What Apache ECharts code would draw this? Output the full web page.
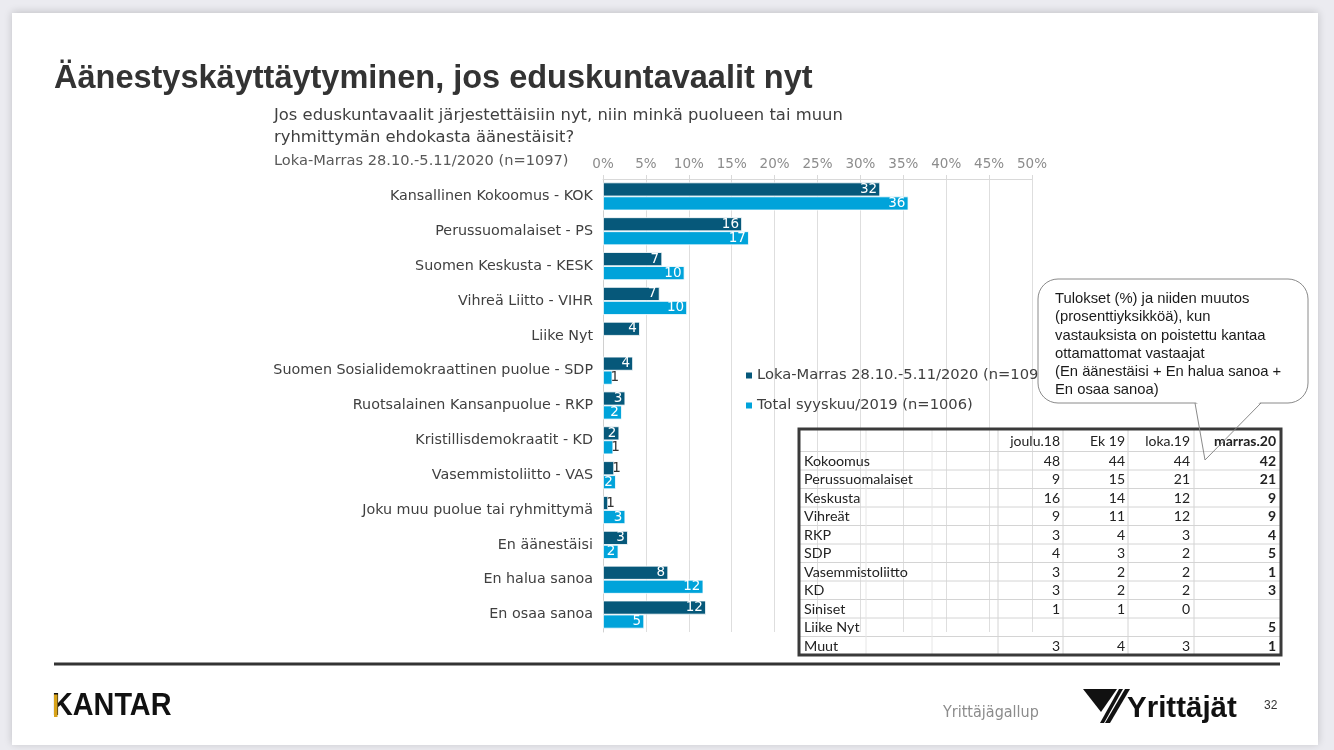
<!DOCTYPE html>
<html>
<head>
<meta charset="utf-8">
<script src="https://cdn.jsdelivr.net/npm/echarts@6/dist/echarts.min.js"></script>
<style>
html,body{margin:0;padding:0;background:#ebebf0;}
#chart{width:1334px;height:750px;}
</style>
</head>
<body>
<div id="chart"></div>
<script>
// ---- data ----
const categories = [
  'Kansallinen Kokoomus - KOK','Perussuomalaiset - PS','Suomen Keskusta - KESK','Vihreä Liitto - VIHR',
  'Liike Nyt','Suomen Sosialidemokraattinen puolue - SDP','Ruotsalainen Kansanpuolue - RKP',
  'Kristillisdemokraatit - KD','Vasemmistoliitto - VAS','Joku muu puolue tai ryhmittymä',
  'En äänestäisi','En halua sanoa','En osaa sanoa'
];
const seriesNames = ['Loka-Marras 28.10.-5.11/2020 (n=1097)','Total syyskuu/2019 (n=1006)'];
const loka2020 = [32.3, 16.2, 6.9, 6.6, 4.3, 3.5, 2.6, 1.9, 1.3, 0.6, 2.9, 7.6, 12.0];
const syys2019 = [35.6, 17.0, 9.5, 9.8, null, 1.1, 2.2, 1.2, 1.5, 2.6, 1.8, 11.7, 4.8];
const xTicks = [0, 50, 5]; // min, max, interval (%)

const tableCols = ['joulu.18','Ek 19','loka.19','marras.20'];
const tableRows = ['Kokoomus','Perussuomalaiset','Keskusta','Vihreät','RKP','SDP','Vasemmistoliitto','KD','Siniset','Liike Nyt','Muut'];
const joulu18  = [48, 9, 16, 9, 3, 4, 3, 3, 1, null, 3];
const ek19     = [44, 15, 14, 11, 4, 3, 2, 2, 1, null, 4];
const loka19   = [44, 21, 12, 12, 3, 2, 2, 2, 0, null, 3];
const marras20 = [42, 21, 9, 9, 4, 5, 1, 3, null, 5, 1];

const titleText = 'Äänestyskäyttäytyminen, jos eduskuntavaalit nyt';
const questionText = 'Jos eduskuntavaalit järjestettäisiin nyt, niin minkä puolueen tai muun\nryhmittymän ehdokasta äänestäisit?';
const sampleText = 'Loka-Marras 28.10.-5.11/2020 (n=1097)';
const calloutText = 'Tulokset (%) ja niiden muutos\n(prosenttiyksikköä), kun\nvastauksista on poistettu kantaa\nottamattomat vastaajat\n(En äänestäisi + En halua sanoa +\nEn osaa sanoa)';

// ---- styles ----
const DARK = '#06587a', LIGHT = '#00a3da';
const chartFont = 'DejaVu Sans, Verdana, sans-serif';

function toItems(arr){
  return arr.map(v => {
    if (v === null) return null;
    if (v < 1.45) return {value: v, label: {color: '#333', position: 'right', distance: -2}};
    return v;
  });
}

const graphics = [];
// slide background
graphics.push({type:'rect', z:-10, shape:{x:12,y:13,width:1306,height:732},
  style:{fill:'#fff', shadowBlur:8, shadowColor:'rgba(0,0,0,0.18)', shadowOffsetX:0, shadowOffsetY:-1}});
// title & texts
graphics.push({type:'text', x:54, y:79, style:{text:titleText, verticalAlign:'middle', fontFamily:'Liberation Sans, Arial, sans-serif', fontWeight:'bold', fontSize:32.5, fill:'#333'}});
graphics.push({type:'text', x:274, y:105, style:{text:questionText, verticalAlign:'top', fontFamily:'DejaVu Sans, sans-serif', fontSize:16.4, lineHeight:22, fill:'#404040'}});
graphics.push({type:'text', x:274, y:161, style:{text:sampleText, verticalAlign:'middle', fontFamily:chartFont, fontSize:14.6, fill:'#595959'}});

// table
const tx0 = 799, tx1 = 1281, ty0 = 429, headH = 22.5, rowH = 18.5;
const ty1 = ty0 + headH + rowH * tableRows.length;
const colLines = [866, 932, 998, 1063, 1128, 1194];
const numRight = [1060, 1125, 1190, 1276];
const tableFont = 'Lato, Open Sans, sans-serif';
for (let i = 0; i < tableRows.length; i++) {
  const y = ty0 + headH + rowH * i;
  graphics.push({type:'line', z:70, shape:{x1:tx0, y1:y, x2:tx1, y2:y}, style:{stroke:'#d4d4d4', lineWidth:1}});
}
colLines.forEach((x, k) => {
  graphics.push({type:'line', z:70, shape:{x1:x, y1:ty0, x2:x, y2:ty1}, style:{stroke: k < 2 ? '#e6e6e6' : '#d4d4d4', lineWidth:1}});
});
graphics.push({type:'rect', z:72, shape:{x:tx0, y:ty0, width:tx1-tx0, height:ty1-ty0}, style:{fill:'none', stroke:'#3a3a3a', lineWidth:3}});
tableCols.forEach((c, j) => {
  graphics.push({type:'text', z:71, x:numRight[j], y:ty0 + headH/2 + 1, style:{text:c, align:'right', verticalAlign:'middle', fontFamily:tableFont, fontSize:14, fontWeight: j === 3 ? 'bold' : 'normal', fill:'#222'}});
});
const tableCols4 = [joulu18, ek19, loka19, marras20];
tableRows.forEach((r, i) => {
  const cy = ty0 + headH + rowH * i + rowH/2 + 0.5;
  graphics.push({type:'text', z:71, x:804, y:cy, style:{text:r, verticalAlign:'middle', fontFamily:tableFont, fontSize:14.3, fill:'#222'}});
  tableCols4.forEach((arr, j) => {
    if (arr[i] === null) return;
    graphics.push({type:'text', z:71, x:numRight[j], y:cy, style:{text:String(arr[i]), align:'right', verticalAlign:'middle', fontFamily:tableFont, fontSize:14, fontWeight: j === 3 ? 'bold' : 'normal', fill:'#222'}});
  });
});

// callout
graphics.push({type:'rect', z:60, shape:{x:1038, y:279, width:270, height:124, r:20}, style:{fill:'#fff', stroke:'#8a8a8a', lineWidth:1}});
graphics.push({type:'polygon', z:61, shape:{points:[[1195.5,402],[1260.5,402],[1229,428]]}, style:{fill:'#fff'}});
graphics.push({type:'polyline', z:80, shape:{points:[[1195,403],[1205,460],[1261,403]]}, style:{stroke:'#8a8a8a', lineWidth:1, fill:null}});
graphics.push({type:'text', z:63, x:1055, y:290, style:{text:calloutText, verticalAlign:'top', fontFamily:'Liberation Sans, Arial, sans-serif', fontSize:14.8, lineHeight:18.2, fill:'#1a1a1a'}});

// footer
graphics.push({type:'line', z:5, shape:{x1:54, y1:664, x2:1280, y2:664}, style:{stroke:'#333', lineWidth:3}});
graphics.push({type:'text', z:5, x:52, y:706, scaleX:0.9, originX:0, originY:0, style:{text:'KANTAR', verticalAlign:'middle', fontFamily:'Liberation Sans, sans-serif', fontWeight:'bold', fontSize:32, fill:'#111'}});
graphics.push({type:'rect', z:6, shape:{x:54, y:694.5, width:3.5, height:22.5}, style:{fill:'#d8a31a'}});
graphics.push({type:'text', z:5, x:943, y:713, style:{text:'Yrittäjägallup', verticalAlign:'middle', fontFamily:'Liberation Sans Narrow, DejaVu Sans Condensed, sans-serif', fontSize:16, fill:'#8c8c8c'}});
graphics.push({type:'polygon', z:5, shape:{points:[[1083,689],[1117,689],[1101,712]]}, style:{fill:'#111'}});
graphics.push({type:'polygon', z:5, shape:{points:[[1119,689],[1123,689],[1104,723],[1100,723]]}, style:{fill:'#111'}});
graphics.push({type:'polygon', z:5, shape:{points:[[1125,689],[1130,689],[1110,723],[1105,723]]}, style:{fill:'#111'}});
graphics.push({type:'text', z:5, x:1127, y:709, style:{text:'Yrittäjät', verticalAlign:'middle', fontFamily:'Liberation Sans, Arial, sans-serif', fontWeight:'bold', fontSize:29.5, fill:'#111'}});
graphics.push({type:'text', z:5, x:1264, y:706, style:{text:'32', verticalAlign:'middle', fontFamily:'Liberation Sans, Arial, sans-serif', fontSize:12, fill:'#333'}});

const option = {
  backgroundColor: '#ebebf0',
  animation: false,
  textStyle: {fontFamily: chartFont},
  grid: {left: 603, right: 302, top: 179, bottom: 118, containLabel: false},
  legend: {
    orient: 'vertical', left: 739, top: 363, itemWidth: 8, itemHeight: 8, itemGap: 15, itemGap: 15, icon: 'rect',
    textStyle: {fontFamily: chartFont, fontSize: 14.7, color: '#404040', padding: [0, 0, 0, -1]},
    data: seriesNames
  },
  xAxis: {
    type: 'value', position: 'top', min: xTicks[0], max: xTicks[1], interval: xTicks[2],
    axisLabel: {formatter: '{value}%', color: '#8c8c8c', fontSize: 13.5, fontFamily: chartFont, margin: 8},
    axisLine: {show: true, lineStyle: {color: '#d9d9d9'}},
    axisTick: {show: true, length: 4, lineStyle: {color: '#d9d9d9'}},
    splitLine: {show: true, lineStyle: {color: '#dedede', width: 1}}
  },
  yAxis: {
    type: 'category', inverse: true, data: categories,
    axisLine: {show: true, lineStyle: {color: '#d0d0d0'}},
    axisTick: {show: false},
    axisLabel: {color: '#404040', fontSize: 14.3, fontFamily: chartFont, margin: 10}
  },
  series: [
    {name: seriesNames[0], type: 'bar', data: toItems(loka2020), barWidth: 14, barGap: '0%',
     itemStyle: {color: DARK, borderColor: '#fff', borderWidth: 0.8},
     label: {show: true, position: 'insideRight', distance: 3, color: '#fff', fontSize: 13.5, fontFamily: chartFont,
       formatter: p => Math.round(p.value)}},
    {name: seriesNames[1], type: 'bar', data: toItems(syys2019), barWidth: 14,
     itemStyle: {color: LIGHT, borderColor: '#fff', borderWidth: 0.8},
     label: {show: true, position: 'insideRight', distance: 3, color: '#fff', fontSize: 13.5, fontFamily: chartFont,
       formatter: p => Math.round(p.value)}}
  ],
  graphic: graphics
};
const chart = echarts.init(document.getElementById('chart'));
chart.setOption(option);
</script>
</body>
</html>
